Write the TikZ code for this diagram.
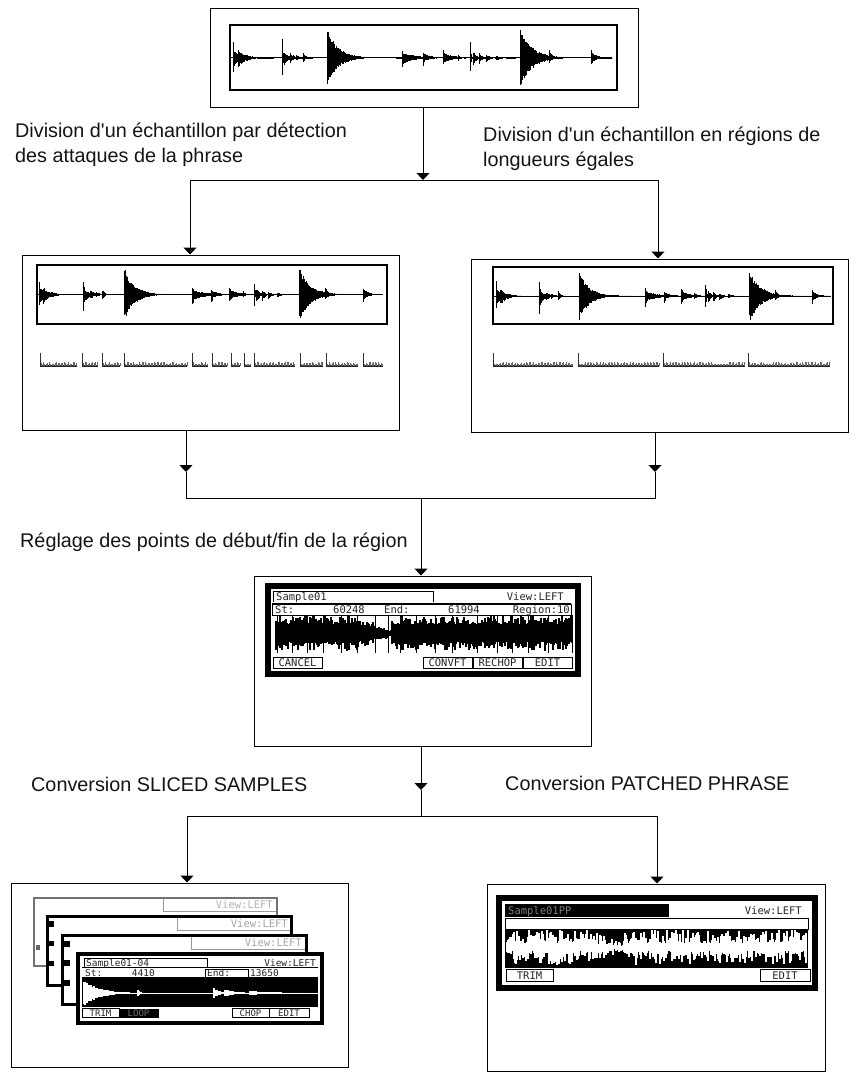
\documentclass[tikz,border=0pt]{standalone}
\usepackage{fontspec}
\setmainfont{Liberation Sans}
\newfontfamily\scrfont{DejaVu Sans Mono}
\usetikzlibrary{arrows.meta}
\tikzset{
  panel/.style={draw=black,line width=1pt,fill=white,inner sep=0pt},
  innerbox/.style={draw=black,line width=1.2pt},
  wire/.style={draw=black,line width=1pt},
  tip/.style={wire,-{Triangle[width=13pt,length=7pt]}},
  lbl/.style={anchor=base west,inner sep=0pt,font=\fontsize{19.8}{22}\selectfont,text=black!92},
  scr/.style={inner sep=0pt,font=\scrfont\fontsize{10.5}{12}\selectfont,text=black!85,text height=7.5pt,text depth=0pt},
  btn/.style={draw=black,line width=.9pt,fill=white},
}
% sample waveform: origin at first attack, on the centre line
\newcommand\samplewave[1]{%
  \pgfmathsetseed{#1}%
  \clip (-4,-40) rectangle (378,40);
  \draw[line width=1pt] (-3,0)--(378,0);
  \foreach \bx/\bu/\bd/\bt in {-1/17/15/1,0/7/9/7,4/8/11/6,12/3/4/7,48/20/22/1,50/5/8/5,56/5/5/4,62/3/3/4,69/6/6/2.5,93/29/29/11,96/3/3/26,168/9/13/2,169/5/6/14,189/6/10/2,190/4/4/8,209/9/9/3,210/5/5/10,224/4/4/2,236/16/14/1,239/7/9/3,245/5/7/3,252/3/5/4,262/2/3/5,286/29/30/12,290/3/3/28,315/8/6/3,357/8/9/2,358/5/5/6}{
    \pgfmathtruncatemacro\bn{4*\bt/0.6}
    \foreach \k in {0,...,\bn}{
      \pgfmathsetmacro\ts{\k*0.6}
      \pgfmathsetmacro\ev{exp(-\ts/\bt)}
      \pgfmathsetmacro\ru{\bu*\ev*(0.7+0.3*rnd)}
      \pgfmathsetmacro\rd{\bd*\ev*(0.7+0.3*rnd)}
      \draw[line width=.7pt] (\bx+\ts,-\ru)--(\bx+\ts,\rd);
    }
  }
}
% slice track below a waveform; #1 baseline y, #2 list of start/end
\newcommand\slicetrack[2]{%
  \foreach \sa/\sb in {#2}{
    \fill[black!85] (\sa,#1-1.2) rectangle (\sb,#1+1);
    \draw[line width=.9pt,black!80] (\sa,#1-13)--(\sa,#1);
    \draw[line width=1.6pt,black!85] (\sa+.6,#1-6)--(\sa+.6,#1);
    \pgfmathtruncatemacro\nb{(\sb-\sa)/1.5}
    \foreach \k in {1,...,\nb}{
      \pgfmathsetmacro\hb{1.5+3*rnd}
      \draw[line width=.9pt,black!60] (\sa+\k*1.5,#1)--(\sa+\k*1.5,#1-\hb);
    }
  }
}
% dense display waveform
\newcommand\displaywave[6]{% x0, x1, centre, base amp, colour, seed
  \pgfmathsetseed{#6}%
  \pgfmathtruncatemacro\nw{#2-#1}
  \foreach \k in {0,...,\nw}{
    \pgfmathsetmacro\uu{\k/\nw}
    \pgfmathsetmacro\ev{(\uu<.27)?1:((\uu<.39)?(1-(\uu-.27)/.12*.8):1)}
    \pgfmathsetmacro\ru{\ev*(#4+(18-#4)*pow(rnd,2.2))}
    \pgfmathsetmacro\rd{\ev*(#4+(18-#4)*pow(rnd,2.2))}
    \draw[line width=1.1pt,#5] (#1+\k,#3-\ru)--(#1+\k,#3+\rd);
  }
}
\begin{document}
\begin{tikzpicture}[x=1pt,y=-1pt]
\path[use as bounding box,fill=white] (0,0) rectangle (862,1084);

% panels
\node[panel,minimum width=428pt,minimum height=99pt] (src) at (424,57.5) {};
\node[panel,minimum width=377pt,minimum height=175pt] (pa) at (210.5,342.5) {};
\node[panel,minimum width=377pt,minimum height=173pt] (pb) at (659.5,345.5) {};
\node[panel,minimum width=337pt,minimum height=170pt] (pc) at (422.5,661) {};
\node[panel,minimum width=337pt,minimum height=184pt] (pd) at (179.5,975) {};
\node[panel,minimum width=338pt,minimum height=187pt] (pe) at (656,977.5) {};

% junctions
\coordinate (j1) at (423,180);
\coordinate (j1l) at (190,180);
\coordinate (j1r) at (658,180);
\coordinate (j2l) at (186,498);
\coordinate (j2r) at (655,498);
\coordinate (j2) at (421,498);
\coordinate (m2l) at (186,472);
\coordinate (m2r) at (655,472);
\coordinate (j3) at (421,816);
\coordinate (m3) at (421,790);
\coordinate (j3l) at (187,816);
\coordinate (j3r) at (657,816);

% connectors
\draw[tip] (src.south -| j1) -- (j1);
\draw[wire] (j1l) -- (j1r);
\draw[tip] (j1l) -- (j1l |- pa.north);
\draw[tip] (j1r) -- (j1r |- pb.north);
\draw[tip] (pa.south -| j2l) -- (m2l);
\draw[tip] (pb.south -| j2r) -- (m2r);
\draw[wire] (m2l) -- (j2l) -- (j2r) -- (m2r);
\draw[tip] (j2) -- (j2 |- pc.north);
\draw[tip] (pc.south -| j3) -- (m3);
\draw[wire] (m3) -- (j3);
\draw[wire] (j3l) -- (j3r);
\draw[tip] (j3l) -- (j3l |- pd.north);
\draw[tip] (j3r) -- (j3r |- pe.north);

% labels
\node[lbl] (t1) at (15,137) {Division d\textquotesingle un échantillon par détection};
\node[lbl] (t2) at (15,162) {des attaques de la phrase};
\node[lbl] (t3) at (483,141) {Division d\textquotesingle un échantillon en régions de};
\node[lbl] (t4) at (483,166) {longueurs égales};
\node[lbl] (t5) at (20,547) {Réglage des points de début/fin de la région};
\node[lbl] (t6) at (31,791) {Conversion SLICED SAMPLES};
\node[lbl] (t7) at (505,790) {Conversion PATCHED PHRASE};

% top waveform
\draw[innerbox] (230,25) rectangle (617,90);
\begin{scope}[shift={(234,57.7)}] \samplewave{11} \end{scope}

% left waveform
\draw[innerbox] (37,265) rectangle (387,324);
\begin{scope}[shift={(40,294.5)},xscale=.907,yscale=.907] \samplewave{22} \end{scope}
\pgfmathsetseed{5}
\slicetrack{366}{40/77,82/98,102/120,124/187,192/208,212/227,231/240,244/251,254/295,300/323,326/358,363/383}

% right waveform
\draw[innerbox] (493,267) rectangle (833,324);
\begin{scope}[shift={(497,296)},xscale=.883,yscale=.883] \samplewave{33} \end{scope}
\pgfmathsetseed{6}
\slicetrack{366}{493/573,578/659,663/745,748/830}

% middle screen
\draw[black,line width=5.5pt,fill=white] (268,586) rectangle (578,674);
\displaywave{276}{572}{633}{9}{black}{44}
\foreach \g in {277,292,307,323,341,357,375,388,400,416,435,452,477,497,512,528,548,572}
  \draw[black,line width=.8pt] (\g,615)--(\g,653);
\draw[line width=1pt,fill=white] (273,602)--(273,591)--(433,591)--(433,602);
\draw[line width=.9pt] (272,603.5)--(571,603.5);
\draw[line width=.9pt] (272,604) rectangle (571,615);
\node[scr,anchor=west] (m1) at (276,597) {Sample01};
\node[scr,anchor=east] (m2) at (564,597) {View:LEFT};
\node[scr,anchor=west] (m3t) at (275,610) {St:};
\node[scr,anchor=east] (m4) at (365,610) {60248};
\node[scr,anchor=west] (m5) at (384,610) {End:};
\node[scr,anchor=east] (m6) at (480,610) {61994};
\node[scr,anchor=east] (m7) at (570,610) {Region:10};
\node[scr,btn,minimum width=49pt,minimum height=11pt] (m8) at (297.5,663) {CANCEL};
\node[scr,btn,minimum width=49pt,minimum height=11pt] (m9) at (447.5,663) {CONVFT};
\node[scr,btn,minimum width=49pt,minimum height=11pt] (m10) at (497.5,663) {RECHOP};
\node[scr,btn,minimum width=49pt,minimum height=11pt] (m11) at (547.5,663) {EDIT};

% stacked screens
\draw[black!55,line width=2pt,fill=white] (34,898) rectangle (277,966);
\draw[black!40,line width=.8pt] (163,899)--(163,911)--(276,911);
\fill[black!60] (36,945) rectangle (40,950);
\node[scr,text=black!30,anchor=east] (b1) at (273,905) {View:LEFT};
\draw[black,line width=3.4pt,fill=white] (47.5,916.5) rectangle (291.5,985.5);
\draw[black!40,line width=.8pt] (177,918)--(177,930)--(290,930);
\fill[black] (49,921) rectangle (54,927);
\fill[black] (49,941) rectangle (54,946);
\fill[black] (49,961) rectangle (54,966);
\node[scr,text=black!35,anchor=east] (b2) at (288,924) {View:LEFT};
\draw[black,line width=3.4pt,fill=white] (62.5,935.5) rectangle (306.5,1004.5);
\draw[black!40,line width=.8pt] (191,937)--(191,949)--(305,949);
\fill[black] (64,941) rectangle (70,947);
\fill[black] (64,960) rectangle (70,966);
\fill[black] (64,980) rectangle (70,986);
\node[scr,text=black!35,anchor=east] (b3) at (302,943) {View:LEFT};
\draw[black,line width=4pt,fill=white] (78,954) rectangle (322,1023);
\fill[black] (82,977) rectangle (318,1007);
\begin{scope}
\clip (82,977) rectangle (318,1007);
\pgfmathsetseed{9}
\foreach \bx/\bu/\bt in {84/13/15,138/4/2,214/5/6,225/4/10,250/2/25}{
  \pgfmathtruncatemacro\bn{4*\bt}
  \foreach \k in {0,...,\bn}{
    \pgfmathsetmacro\ev{\bu*exp(-\k/\bt)*(.8+.2*rnd)}
    \draw[white,line width=1.1pt] (\bx+\k,993-\ev)--(\bx+\k,993+\ev);
  }
}
\draw[white,line width=.8pt] (84,993)--(316,993);
\end{scope}
\draw[line width=.9pt] (84,967)--(84,958)--(207,958)--(207,967);
\draw[line width=.9pt] (82,967.5)--(318,967.5);
\node[scr,font=\scrfont\fontsize{9.5}{11}\selectfont,anchor=west] (s1) at (86,963) {Sample01-04};
\node[scr,font=\scrfont\fontsize{9.5}{11}\selectfont,anchor=east] (s2) at (316,963) {View:LEFT};
\node[scr,font=\scrfont\fontsize{9.5}{11}\selectfont,anchor=west] (s3) at (85,973) {St:};
\node[scr,font=\scrfont\fontsize{9.5}{11}\selectfont,anchor=east] (s4) at (155,973) {4410};
\draw[line width=.8pt] (205,969) rectangle (248,977);
\node[scr,font=\scrfont\fontsize{9.5}{11}\selectfont,anchor=west] (s5) at (207,973) {End:};
\node[scr,font=\scrfont\fontsize{9.5}{11}\selectfont,anchor=west] (s6) at (250,973) {13650};
\node[scr,btn,font=\scrfont\fontsize{9}{10}\selectfont,minimum width=37pt,minimum height=9pt,text height=6.5pt] (s7) at (100.5,1013) {TRIM};
\node[scr,fill=black,text=black!55,font=\scrfont\fontsize{9}{10}\selectfont,minimum width=40pt,minimum height=9pt,text height=6.5pt] (s8) at (138.5,1013) {LOOP};
\node[scr,btn,font=\scrfont\fontsize{9}{10}\selectfont,minimum width=37pt,minimum height=9pt,text height=6.5pt] (s9) at (250.5,1013) {CHOP};
\node[scr,btn,font=\scrfont\fontsize{9}{10}\selectfont,minimum width=40pt,minimum height=9pt,text height=6.5pt] (s10) at (289,1013) {EDIT};

% bottom-right screen
\draw[black,line width=5.5pt,fill=white] (499,898) rectangle (815,988);
\fill[black] (505,929) rectangle (808,968);
\displaywave{507}{806}{947}{4}{white}{55}
\fill[black] (505,904) rectangle (669,917);
\draw[line width=.9pt] (505,918) rectangle (808,929);
\node[scr,text=black!50,anchor=west] (r1) at (508,910.5) {Sample01PP};
\node[scr,anchor=east] (r2) at (802,910.5) {View:LEFT};
\node[scr,btn,minimum width=47pt,minimum height=12pt] (r3) at (529.5,975.5) {TRIM};
\node[scr,btn,minimum width=50pt,minimum height=12pt] (r4) at (785,975.5) {EDIT};
\end{tikzpicture}
\end{document}
